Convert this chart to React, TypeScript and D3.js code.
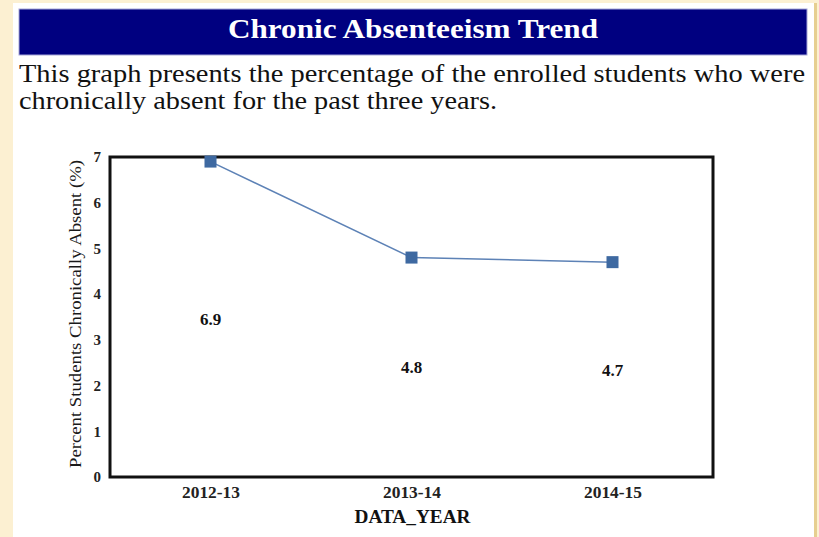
import React, { useEffect, useRef } from 'react';
import * as d3 from 'd3';

// chart data
const years = ['2012-13', '2013-14', '2014-15'];
const absentPct = [6.9, 4.8, 4.7];
const yTicks = [0, 1, 2, 3, 4, 5, 6, 7];

const title = 'Chronic Absenteeism Trend';
const introLines = [
  'This graph presents the percentage of the enrolled students who were',
  'chronically absent for the past three years.',
];

const W = 819;
const H = 537;
const serif = '"Liberation Serif", "Times New Roman", Times, serif';

const App = () => {
  const ref = useRef<SVGSVGElement>(null);

  useEffect(() => {
    const svg = d3.select(ref.current);
    svg.selectAll('*').remove();

    // page background + white panel
    svg.append('rect').attr('width', W).attr('height', H).attr('fill', '#fcf0d2');
    svg.append('rect').attr('x', 13).attr('y', 3).attr('width', 801).attr('height', H).attr('fill', '#ffffff');
    svg.append('rect').attr('x', 814).attr('y', 3).attr('width', 3).attr('height', H).attr('fill', '#e6cf90');

    // title bar
    svg.append('rect')
      .attr('x', 19).attr('y', 9).attr('width', 788).attr('height', 46)
      .attr('fill', '#000080').attr('stroke', '#a7a7d8').attr('stroke-width', 1);
    svg.append('text')
      .attr('x', 413).attr('y', 38)
      .attr('text-anchor', 'middle')
      .attr('font-family', serif).attr('font-weight', 'bold').attr('font-size', 28)
      .attr('fill', '#ffffff')
      .attr('textLength', 370).attr('lengthAdjust', 'spacingAndGlyphs')
      .text(title);

    // intro text
    const introWidths = [786, 478];
    introLines.forEach((line, i) => {
      svg.append('text')
        .attr('x', 19).attr('y', 82 + i * 27)
        .attr('font-family', serif).attr('font-size', 25)
        .attr('fill', '#111')
        .attr('textLength', introWidths[i]).attr('lengthAdjust', 'spacingAndGlyphs')
        .text(line);
    });

    // scales
    const left = 110, right = 713, top = 157, bottom = 477;
    const x = d3.scalePoint<string>().domain(years).range([left, right]).padding(0.5);
    const y = d3.scaleLinear().domain([0, 7]).range([bottom, top]);

    // y axis labels
    const yAxis = svg.append('g')
      .attr('transform', `translate(${left},0)`)
      .call(d3.axisLeft(y).tickValues(yTicks).tickFormat(d3.format('d')).tickSize(0).tickPadding(9));
    yAxis.select('.domain').remove();
    yAxis.selectAll('text')
      .attr('font-family', serif).attr('font-weight', 'bold').attr('font-size', 15).attr('fill', '#222');

    // x axis labels
    const xAxis = svg.append('g')
      .attr('transform', `translate(0,${bottom})`)
      .call(d3.axisBottom(x).tickSize(0).tickPadding(9));
    xAxis.select('.domain').remove();
    xAxis.selectAll('text')
      .attr('font-family', serif).attr('font-weight', 'bold').attr('font-size', 17).attr('fill', '#222')
      .attr('textLength', 58).attr('lengthAdjust', 'spacingAndGlyphs');

    // frame
    svg.append('rect')
      .attr('x', left).attr('y', top).attr('width', right - left).attr('height', bottom - top)
      .attr('fill', 'none').attr('stroke', '#111').attr('stroke-width', 3);

    // axis titles
    svg.append('text')
      .attr('x', (left + right) / 2 + 1).attr('y', 523)
      .attr('text-anchor', 'middle')
      .attr('font-family', serif).attr('font-weight', 'bold').attr('font-size', 18).attr('fill', '#111')
      .attr('textLength', 116).attr('lengthAdjust', 'spacingAndGlyphs')
      .text('DATA_YEAR');
    svg.append('text')
      .attr('transform', `translate(81,${(top + bottom) / 2 - 3}) rotate(-90)`)
      .attr('text-anchor', 'middle')
      .attr('font-family', serif).attr('font-size', 16).attr('fill', '#1a1a1a')
      .attr('textLength', 308).attr('lengthAdjust', 'spacingAndGlyphs')
      .text('Percent Students Chronically Absent (%)');

    // line + markers
    const line = d3.line<number>()
      .x((d, i) => x(years[i]) as number)
      .y(d => y(d));
    svg.append('path')
      .datum(absentPct)
      .attr('d', line)
      .attr('fill', 'none').attr('stroke', '#5d82b6').attr('stroke-width', 1.5);
    svg.selectAll('rect.pt')
      .data(absentPct)
      .enter()
      .append('rect')
      .attr('class', 'pt')
      .attr('x', (d, i) => (x(years[i]) as number) - 6)
      .attr('y', d => y(d) - 6)
      .attr('width', 12).attr('height', 12)
      .attr('fill', '#3e69a1');

    // value labels (placed at half the value, like the original)
    svg.selectAll('text.val')
      .data(absentPct)
      .enter()
      .append('text')
      .attr('class', 'val')
      .attr('x', (d, i) => x(years[i]) as number)
      .attr('y', d => y(d / 2) + 6)
      .attr('text-anchor', 'middle')
      .attr('font-family', serif).attr('font-weight', 'bold').attr('font-size', 17).attr('fill', '#111')
      .text(d => d.toFixed(1));
  }, []);

  return (
    <svg
      ref={ref}
      width={W}
      height={H}
      style={{ position: 'absolute', left: 0, top: 0, display: 'block' }}
    />
  );
};

export default App;
